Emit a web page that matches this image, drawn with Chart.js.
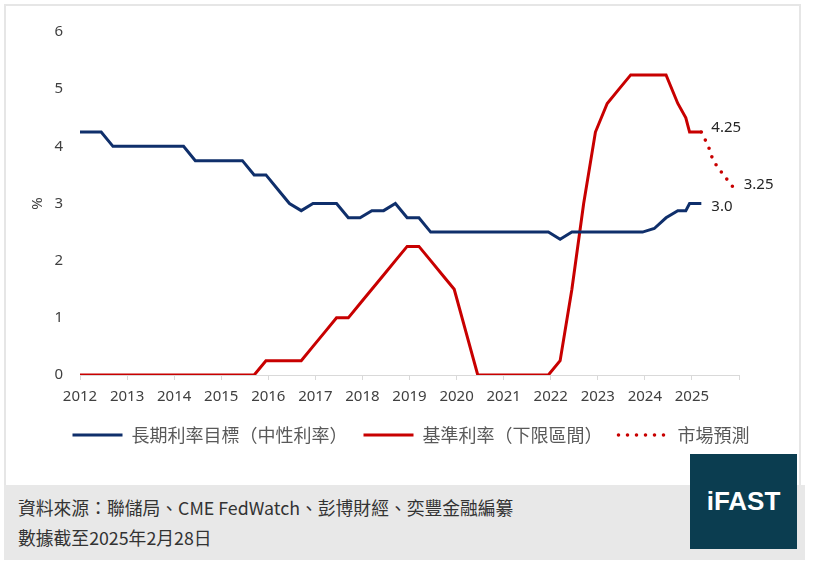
<!DOCTYPE html>
<html>
<head>
<meta charset="utf-8">
<script src="https://cdn.jsdelivr.net/npm/chart.js@4.4.1/dist/chart.umd.min.js"></script>
<style>
body{margin:0;width:822px;height:567px;background:#fff;position:relative;overflow:hidden;font-family:"Noto Sans CJK TC",sans-serif;}
#frame{position:absolute;left:4px;top:4px;width:797px;height:481px;border:2px solid #e6e6e6;border-bottom:none;box-sizing:border-box;}
#wrap{position:absolute;left:0;top:0;width:822px;height:485px;}
#foot{position:absolute;left:4px;top:485px;width:801px;height:75px;background:#e8e8e8;}
.src{position:absolute;left:14px;font-size:17.8px;line-height:20px;color:#333;white-space:nowrap;}
#logo{position:absolute;left:690px;top:454px;width:107px;height:95px;background:#0b3d50;color:#fff;font:bold 26px "Liberation Sans",Arial,sans-serif;display:flex;align-items:center;justify-content:center;}
</style>
</head>
<body>
<div id="frame"></div>
<div id="wrap"><canvas id="rateChart"></canvas></div>
<div id="foot">
  <div class="src" style="top:12px">資料來源：聯儲局、CME FedWatch、彭博財經、奕豐金融編纂</div>
  <div class="src" style="top:42px">數據截至2025年2月28日</div>
</div>
<div id="logo">iFAST</div>
<script>
// SEP meeting dates (decimal years)
const dates = [2012.0, 2012.2, 2012.45, 2012.7, 2012.95,
  2013.2, 2013.45, 2013.7, 2013.95,
  2014.2, 2014.45, 2014.7, 2014.95,
  2015.2, 2015.45, 2015.7, 2015.95,
  2016.2, 2016.45, 2016.7, 2016.95,
  2017.2, 2017.45, 2017.7, 2017.95,
  2018.2, 2018.45, 2018.7, 2018.95,
  2019.2, 2019.45, 2019.7, 2019.95,
  2020.2, 2020.45, 2020.7, 2020.95,
  2021.2, 2021.45, 2021.7, 2021.95,
  2022.2, 2022.45, 2022.7, 2022.95,
  2023.2, 2023.45, 2023.7, 2023.95,
  2024.2, 2024.45, 2024.7, 2024.87, 2024.95,
  2025.2];
const neutralRate = [4.25, 4.25, 4.25, 4.0, 4.0,
  4.0, 4.0, 4.0, 4.0,
  4.0, 3.75, 3.75, 3.75,
  3.75, 3.75, 3.5, 3.5,
  3.25, 3.0, 2.875, 3.0,
  3.0, 3.0, 2.75, 2.75,
  2.875, 2.875, 3.0, 2.75,
  2.75, 2.5, 2.5, 2.5,
  2.5, 2.5, 2.5, 2.5,
  2.5, 2.5, 2.5, 2.5,
  2.375, 2.5, 2.5, 2.5,
  2.5, 2.5, 2.5, 2.5,
  2.5625, 2.75, 2.875, 2.875, 3.0,
  3.0];
const fedFunds = [0, 0, 0, 0, 0,
  0, 0, 0, 0,
  0, 0, 0, 0,
  0, 0, 0, 0.25,
  0.25, 0.25, 0.25, 0.5,
  0.75, 1.0, 1.0, 1.25,
  1.5, 1.75, 2.0, 2.25,
  2.25, 2.0, 1.75, 1.5,
  0.75, 0, 0, 0,
  0, 0, 0, 0,
  0.25, 1.5, 3.0, 4.25,
  4.75, 5.0, 5.25, 5.25,
  5.25, 5.25, 4.75, 4.5, 4.25,
  4.25];
const forecastDates = [2025.2, 2025.35, 2025.45, 2025.67, 2025.91];
const forecastRates = [4.25, 4.0, 3.75, 3.5, 3.25];
const seriesNames = ['長期利率目標（中性利率）', '基準利率（下限區間）', '市場預測'];
const yearTicks = [2012, 2013, 2014, 2015, 2016, 2017, 2018, 2019, 2020, 2021, 2022, 2023, 2024, 2025];

const toPoints = (xs, ys) => xs.map((x, i) => ({x: x, y: ys[i]}));

// [dataset, point, text, dx, dy]
const endTags = [
  [2, 0, '4.25', 10, -4],
  [2, forecastDates.length - 1, '3.25', 9, -4],
  [0, dates.length - 1, '3.0', 10, 3]
];

const endLabels = {
  id: 'endLabels',
  afterDatasetsDraw(chart) {
    const ctx = chart.ctx;
    ctx.save();
    ctx.font = '15px "Noto Sans"';
    ctx.fillStyle = '#262626';
    ctx.textBaseline = 'middle';
    ctx.textAlign = 'left';
    endTags.forEach(t => {
      const el = chart.getDatasetMeta(t[0]).data[t[1]];
      ctx.fillText(t[2], el.x + t[3], el.y + t[4]);
    });
    ctx.restore();
  }
};

new Chart(document.getElementById('rateChart'), {
  type: 'line',
  data: {
    datasets: [{
      label: seriesNames[0],
      data: toPoints(dates, neutralRate),
      borderColor: '#0f2f6b',
      backgroundColor: '#0f2f6b',
      borderWidth: 3,
      pointRadius: 0,
      tension: 0
    }, {
      label: seriesNames[1],
      data: toPoints(dates, fedFunds),
      borderColor: '#c80000',
      backgroundColor: '#c80000',
      borderWidth: 3,
      pointRadius: 0,
      tension: 0
    }, {
      label: seriesNames[2],
      data: toPoints(forecastDates, forecastRates),
      borderColor: '#c80000',
      backgroundColor: '#c80000',
      borderWidth: 3.6,
      borderDash: [0, 9],
      borderCapStyle: 'round',
      pointRadius: 0,
      tension: 0
    }]
  },
  options: {
    responsive: true,
    maintainAspectRatio: false,
    animation: false,
    layout: {padding: {top: 32, left: 0, right: 0, bottom: 31}},
    plugins: {
      tooltip: {enabled: false},
      legend: {
        position: 'bottom',
        labels: {
          usePointStyle: true,
          pointStyle: 'line',
          pointStyleWidth: 50,
          padding: 16,
          color: '#595959',
          font: {family: '"Noto Sans CJK TC"', size: 18},
          generateLabels: chart => {
            const items = Chart.defaults.plugins.legend.labels.generateLabels(chart);
            items.forEach(it => {
              const ds = chart.data.datasets[it.datasetIndex];
              it.strokeStyle = ds.borderColor;
              it.lineWidth = ds.borderWidth;
              it.lineDash = ds.borderDash || [];
              it.lineCap = ds.borderCapStyle || 'butt';
            });
            return items;
          }
        }
      }
    },
    scales: {
      x: {
        type: 'linear',
        min: 2012,
        max: 2026,
        afterBuildTicks: s => { s.ticks = yearTicks.concat([2026]).map(v => ({value: v})); },
        afterFit: s => { s.height -= 4; },
        ticks: {
          padding: 8,
          color: '#404040',
          font: {family: '"Noto Sans"', size: 15},
          maxRotation: 0,
          callback: v => yearTicks.includes(v) ? String(v) : ''
        },
        grid: {drawOnChartArea: false, drawTicks: true, tickLength: 5, color: '#d9d9d9'},
        border: {color: '#d9d9d9'}
      },
      y: {
        min: 0,
        max: 6,
        afterFit: s => { s.width = 80; },
        ticks: {
          stepSize: 1,
          padding: 17,
          color: '#404040',
          font: {family: '"Noto Sans"', size: 15}
        },
        grid: {display: false, drawTicks: false},
        border: {display: false},
        title: {display: true, text: '%', color: '#404040', padding: {top: 29, bottom: 0}, font: {family: '"Noto Sans"', size: 15}}
      },
      yRight: {
        position: 'right',
        min: 0,
        max: 6,
        afterFit: s => { s.width = 83; },
        ticks: {display: false},
        grid: {display: false, drawTicks: false},
        border: {display: false}
      }
    }
  },
  plugins: [endLabels]
});
</script>
</body>
</html>
